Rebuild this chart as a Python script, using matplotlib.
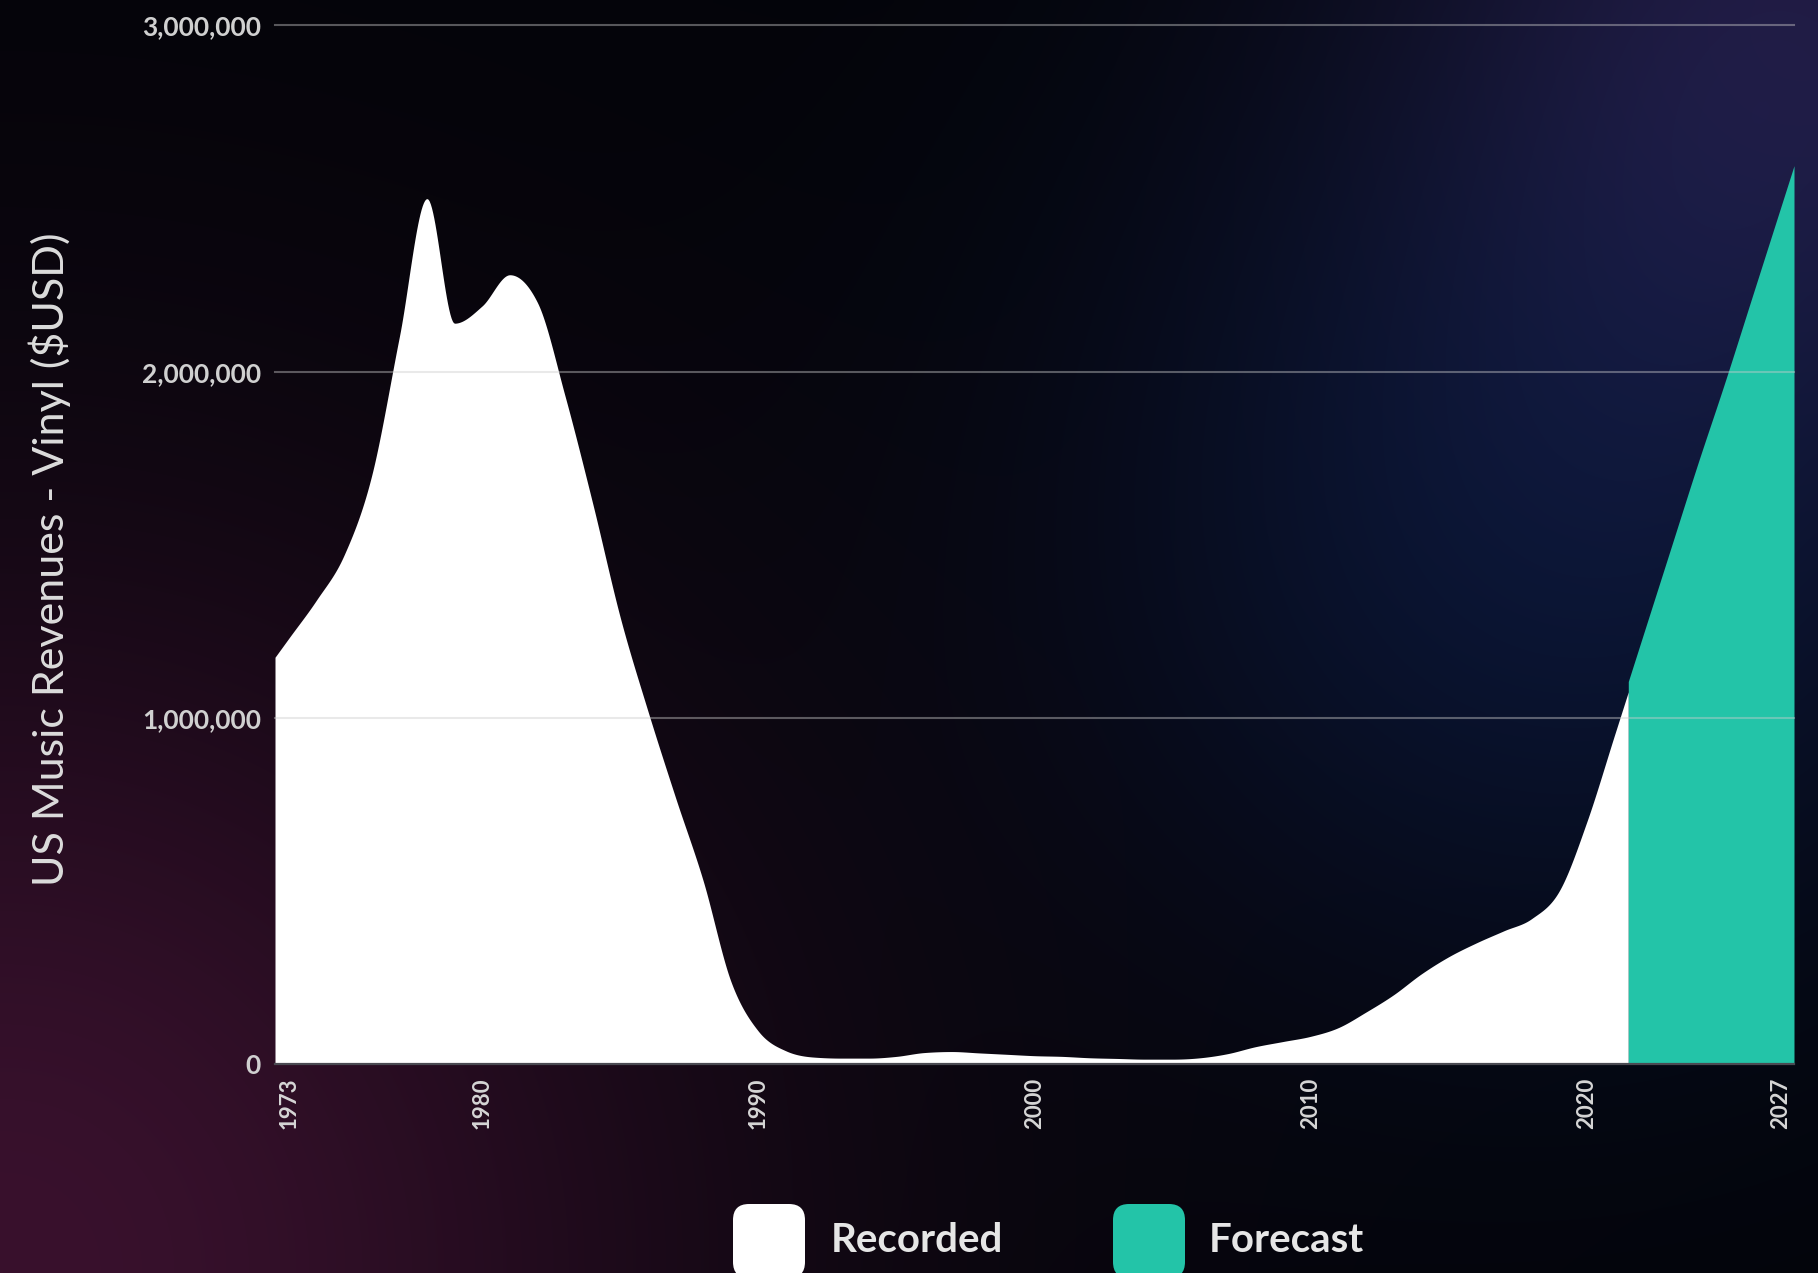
# US vinyl revenues, recorded vs forecast
import matplotlib
matplotlib.use("Agg")
import matplotlib.pyplot as plt
from matplotlib.patches import FancyBboxPatch
import numpy as np

# data ================================================================
recorded_years = np.arange(1973, 2022)
recorded_values = np.array([
    1.23, 1.34, 1.47, 1.70, 2.10, 2.50, 2.14, 2.19, 2.28, 2.20,   # 1973-1982
    1.93, 1.62, 1.29, 1.02, 0.77, 0.53, 0.24, 0.095, 0.038, 0.02,  # 1983-1992
    0.017, 0.017, 0.022, 0.033, 0.036, 0.032, 0.028, 0.024, 0.022, 0.018,  # 1993-2002
    0.016, 0.014, 0.014, 0.018, 0.03, 0.05, 0.065, 0.08, 0.105, 0.15,  # 2003-2012
    0.20, 0.26, 0.31, 0.35, 0.385, 0.42, 0.50, 0.70, 0.95,  # 2013-2021
]) * 1e6

forecast_years = np.arange(2022, 2028)
forecast_values = np.array([1.23, 1.48, 1.73, 1.97, 2.22, 2.47]) * 1e6

series_names = ["Recorded", "Forecast"]
series_colors = ["#ffffff", "#23c4a8"]

x_ticks = [1973, 1980, 1990, 2000, 2010, 2020, 2027]
y_ticks = [0, 1000000, 2000000, 3000000]
y_label = "US Music Revenues - Vinyl ($USD)"

W, H = 1818, 1273
FONT = "Lato"


def band_edges(years, values):
    # stretch the area to the edges of the first and last band
    left = values[0] - 0.5 * (values[1] - values[0])
    right = values[-1] + 0.5 * (values[-1] - values[-2])
    xs = np.r_[years[0] - 0.5, years, years[-1] + 0.5]
    ys = np.r_[left, values, right]
    return xs, ys


def monotone_curve(x, y, steps=24):
    # monotone cubic rendering of the polyline (like d3.curveMonotoneX)
    h = np.diff(x)
    s = np.diff(y) / h
    m = np.zeros_like(y)
    for k in range(1, len(y) - 1):
        p = (s[k - 1] * h[k] + s[k] * h[k - 1]) / (h[k - 1] + h[k])
        m[k] = (np.sign(s[k - 1]) + np.sign(s[k])) * min(abs(s[k - 1]), abs(s[k]), 0.5 * abs(p))
    m[0] = (3 * s[0] - m[1]) / 2 if len(y) > 2 else s[0]
    m[-1] = (3 * s[-1] - m[-2]) / 2 if len(y) > 2 else s[-1]
    xs, ys = [x[0]], [y[0]]
    t = np.linspace(0, 1, steps + 1)[1:]
    for k in range(len(h)):
        h00 = 2 * t ** 3 - 3 * t ** 2 + 1
        h10 = t ** 3 - 2 * t ** 2 + t
        h01 = -2 * t ** 3 + 3 * t ** 2
        h11 = t ** 3 - t ** 2
        xs.extend(x[k] + t * h[k])
        ys.extend(h00 * y[k] + h10 * h[k] * m[k] + h01 * y[k + 1] + h11 * h[k] * m[k + 1])
    return np.array(xs), np.clip(np.array(ys), 0, None)


def background(w, h):
    gx, gy = np.meshgrid(np.linspace(0, w, 364), np.linspace(0, h, 255))
    img = np.zeros(gx.shape + (3,))
    img[:] = np.array([3, 4, 9])

    def blob(cx, cy, r, color):
        d2 = ((gx - cx) ** 2 + (gy - cy) ** 2) / r ** 2
        return np.exp(-d2)[..., None] * np.array(color)

    img += blob(0, h, 720, [54, 13, 36])
    img += blob(1560, 520, 480, [6, 16, 40])
    img += blob(w, 0, 420, [28, 20, 50])
    return np.clip(img / 255.0, 0, 1)


fig = plt.figure(figsize=(W / 100, H / 100), dpi=100)

# background layer in pixel units
bg = fig.add_axes([0, 0, 1, 1], zorder=0)
bg.imshow(background(W, H), extent=[0, W, H, 0], aspect="auto", interpolation="bilinear")
bg.set_xlim(0, W)
bg.set_ylim(H, 0)
bg.axis("off")

ax = fig.add_axes([275 / W, 1 - 1064 / H, (1794 - 275) / W, (1064 - 25.5) / H], zorder=1)
ax.patch.set_alpha(0)

rx, ry = monotone_curve(*band_edges(recorded_years, recorded_values))
fx, fy = monotone_curve(*band_edges(forecast_years, forecast_values))
ax.fill_between(rx, 0, ry, color=series_colors[0], lw=0, zorder=1)
ax.fill_between(fx, 0, fy, color=series_colors[1], lw=0, zorder=1)

for yv in y_ticks[1:]:
    ax.axhline(yv, color="#cccccc", alpha=0.42, lw=1.5, zorder=3, clip_on=False)

ax.set_xlim(recorded_years[0] - 0.5, forecast_years[-1] + 0.5)
ax.set_ylim(y_ticks[0], y_ticks[-1])

ax.set_xticks(x_ticks)
ax.set_xticklabels([str(t) for t in x_ticks], rotation=90, fontsize=16,
                   family=FONT, fontweight="bold", color="#d6d6d6")
ax.set_yticks(y_ticks)
ax.set_yticklabels([f"{t:,}" for t in y_ticks], fontsize=19,
                   family=FONT, fontweight="bold", color="#d0d0d0")
ax.tick_params(axis="both", length=0)
ax.tick_params(axis="x", pad=10)
ax.tick_params(axis="y", pad=10)

for side in ["top", "right", "left"]:
    ax.spines[side].set_visible(False)
ax.spines["bottom"].set_color("#4a4a52")
ax.spines["bottom"].set_linewidth(1.6)
ax.spines["bottom"].set_zorder(4)

fig.text(50 / W, 1 - 559 / H, y_label, rotation=90, ha="center", va="center",
         fontsize=31, family=FONT, color="#dcdcdc")

# legend: rounded swatches + labels
swatch_x = [733, 1113]
text_x = [831, 1209]
for name, col, sx, tx in zip(series_names, series_colors, swatch_x, text_x):
    bg.add_patch(FancyBboxPatch((sx, 1204), 72, 74,
                                boxstyle="round,pad=0,rounding_size=16",
                                fc=col, ec="none", zorder=5))
    bg.text(tx, 1240, name, ha="left", va="center", fontsize=29,
            family=FONT, fontweight="bold", color="#e6e6e6", zorder=5)

fig.savefig("out.png", dpi=100)
